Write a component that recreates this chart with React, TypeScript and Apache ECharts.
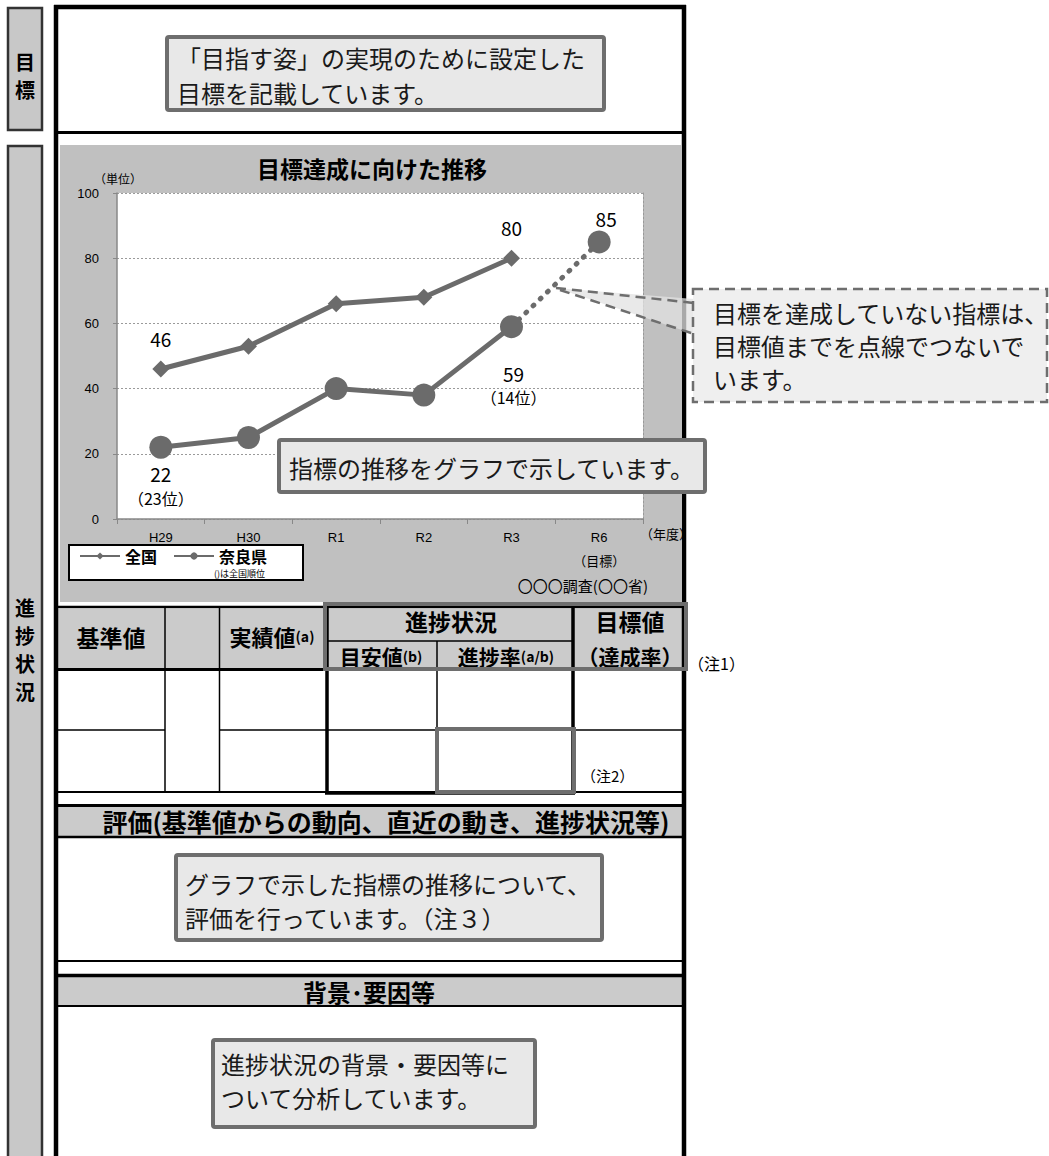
import React, { useEffect, useRef } from "react";
import * as echarts from "echarts";

const categories = ["H29", "H30", "R1", "R2", "R3", "R6"];
const nationalValues: (number | null)[] = [46, 53, 66, 68, 80, null];
const naraValues: (number | null)[] = [22, 25, 40, 38, 59, null];
const naraTargetValues: (number | null)[] = [null, null, null, null, 59, 85];
const naraRanks: (number | null)[] = [23, null, null, null, 14, null];
const nationalLabelIdx = [0, 4];
const naraLabelIdx = [0, 4];
const targetLabelIdx = [5];
const yMin = 0;
const yMax = 100;
const yInterval = 20;

const JP = '"Noto Sans CJK JP", "Noto Sans", sans-serif';
const LAT = '"Liberation Sans", Arial, sans-serif';
const GRAY = "#6b6b6b";

function rect(x: number, y: number, w: number, h: number, fill: string, stroke?: string, lw = 0, z = 1, extra: any = {}) {
  return {
    type: "rect",
    z,
    shape: { x, y, width: w, height: h, r: extra.r || 0 },
    style: { fill, stroke: stroke || "none", lineWidth: lw, lineDash: extra.dash || null },
    silent: true,
  };
}
function line(x1: number, y1: number, x2: number, y2: number, stroke: string, lw: number, z = 5, dash: any = null) {
  return {
    type: "line",
    z,
    shape: { x1, y1, x2, y2 },
    style: { stroke, lineWidth: lw, lineDash: dash },
    silent: true,
  };
}
function text(x: number, y: number, str: string, font: string, align = "left", z = 10, extra: any = {}) {
  return {
    type: "text",
    x,
    y,
    z,
    silent: true,
    style: {
      text: str,
      font,
      fill: "#000",
      align,
      verticalAlign: "middle",
      textAlign: align,
      textVerticalAlign: "middle",
      ...extra,
    },
  };
}
function callout(x: number, y: number, w: number, h: number, lines: string[], tx: number, ty: number[], z = 50) {
  const els: any[] = [rect(x, y, w, h, "#e8e8e8", "#6e6e6e", 4, z, { r: 2 })];
  lines.forEach((s, i) => els.push(text(tx, ty[i], s, `24px ${JP}`, "left", z + 1, { fill: "#1a1a1a" })));
  return els;
}

export default function App() {
  const ref = useRef<HTMLDivElement>(null);
  useEffect(() => {
    if (!ref.current) return;
    const chart = echarts.init(ref.current, null, { renderer: "svg" });

    const g: any[] = [];
    // left label boxes
    g.push(rect(8, 8, 34, 122, "#c8c8c8", "#333", 2.5, 1));
    g.push(text(25, 61, "目", `bold 20px ${JP}`, "center", 3, { lineHeight: 24 }));
    g.push(text(25, 89, "標", `bold 20px ${JP}`, "center", 3, { lineHeight: 24 }));
    g.push(rect(8, 146, 34, 1030, "#c8c8c8", "#333", 2.5, 1));
    ["進", "捗", "状", "況"].forEach((c, i) =>
      g.push(text(25, 607 + i * 28, c, `bold 20px ${JP}`, "center", 3, { lineHeight: 24 }))
    );

    // chart gray background
    g.push(rect(60, 145, 621, 457, "#c0c0c0", undefined, 0, -2));

    // header gray fills
    g.push(rect(58, 609, 624, 60, "#cbcbcb", undefined, 0, 1));
    g.push(rect(58, 807, 624, 29, "#cbcbcb", undefined, 0, 1));
    g.push(rect(58, 977, 624, 28, "#cbcbcb", undefined, 0, 1));

    // frame
    g.push(line(56, 5, 56, 1160, "#000", 4.5, 20));
    g.push(line(684, 5, 684, 1160, "#000", 4.5, 20));
    g.push(line(54, 7, 686, 7, "#000", 4.5, 20));
    g.push(line(56, 132.5, 684, 132.5, "#000", 3, 20));
    g.push(line(56, 607, 684, 607, "#000", 2.5, 20));
    g.push(line(56, 669.5, 684, 669.5, "#000", 3, 20));
    // table inner columns
    g.push(line(165, 607, 165, 792, "#000", 1.5, 20));
    g.push(line(219.5, 607, 219.5, 792, "#000", 1.5, 20));
    g.push(line(437, 641, 437, 792, "#000", 1.5, 20));
    g.push(line(327, 641, 573, 641, "#000", 1.5, 20));
    // row separator (col 2 merged)
    g.push(line(56, 730, 165, 730, "#000", 1.5, 20));
    g.push(line(219.5, 730, 684, 730, "#000", 1.5, 20));
    // thick box around progress columns
    g.push(line(327, 607, 327, 794, "#000", 3.5, 21));
    g.push(line(573, 607, 573, 794, "#000", 3.5, 21));
    g.push(line(56, 792, 684, 792, "#000", 2, 20));
    g.push(line(325, 793, 575, 793, "#000", 3.5, 21));
    // evaluation section lines
    g.push(line(56, 805.5, 684, 805.5, "#000", 3, 20));
    g.push(line(56, 837, 684, 837, "#000", 2.5, 20));
    g.push(line(56, 961, 684, 961, "#000", 2, 20));
    g.push(line(56, 975.5, 684, 975.5, "#000", 3.5, 20));
    g.push(line(56, 1006, 684, 1006, "#000", 2, 20));

    // gray highlight boxes
    g.push(rect(325, 604, 361, 65, "none", "#6e6e6e", 4, 30));
    g.push(rect(437, 729, 137, 63, "none", "#6e6e6e", 4, 30));

    // table header texts
    const hb = `bold 23px ${JP}`;
    g.push(text(111, 637, "基準値", hb, "center", 25));
    g.push(
      text(272, 636, "{a|実績値}{b|(a)}", hb, "center", 25, {
        rich: { a: { font: `bold 22px ${JP}`, fill: "#000" }, b: { font: `bold 14px ${JP}`, fill: "#000" } },
      })
    );
    g.push(text(451, 621, "進捗状況", `bold 23px ${JP}`, "center", 25));
    g.push(
      text(381, 656, "{a|目安値}{b|(b)}", hb, "center", 25, {
        rich: { a: { font: `bold 21px ${JP}`, fill: "#000" }, b: { font: `bold 14px ${JP}`, fill: "#000" } },
      })
    );
    g.push(
      text(506, 656, "{a|進捗率}{b|(a/b)}", hb, "center", 25, {
        rich: { a: { font: `bold 21px ${JP}`, fill: "#000" }, b: { font: `bold 14px ${JP}`, fill: "#000" } },
      })
    );
    g.push(text(630, 621, "目標値", hb, "center", 25));
    g.push(text(630, 656, "（達成率）", `bold 21px ${JP}`, "center", 25));
    g.push(text(688, 663, "（注1）", `16px ${JP}`, "left", 25));
    g.push(text(581, 775, "（注2）", `15px ${JP}`, "left", 25));

    g.push(text(386, 821, "評価(基準値からの動向、直近の動き、進捗状況等)", `bold 25px ${JP}`, "center", 25));
    g.push(text(369, 991, "背景･要因等", `bold 24px ${JP}`, "center", 25));

    // chart texts
    g.push(text(372, 168, "目標達成に向けた推移", `bold 23px ${JP}`, "center", 10));
    g.push(text(94, 178, "（単位）", `12px ${JP}`, "left", 10));
    g.push(text(640, 533, "（年度）", `13px ${JP}`, "left", 25));
    g.push(text(648, 585, "〇〇〇調査(〇〇省)", `15px ${JP}`, "right", 10));
    g.push(rect(69, 545, 234, 35, "#fff", "#000", 2, 0));
    g.push(text(214, 573, "()は全国順位", `9px ${JP}`, "left", 10));

    // callouts
    callout(167, 37, 437, 73, ["「目指す姿」の実現のために設定した", "目標を記載しています。"], 177, [57, 92]).forEach((e) => g.push(e));
    callout(279, 440, 426, 52, ["指標の推移をグラフで示しています。"], 289, [467]).forEach((e) => g.push(e));
    callout(176, 855, 426, 85, ["グラフで示した指標の推移について、", "評価を行っています。（注３）"], 185, [883, 917]).forEach((e) => g.push(e));
    callout(213, 1040, 322, 87, ["進捗状況の背景・要因等に", "ついて分析しています。"], 221, [1063, 1097]).forEach((e) => g.push(e));

    // dashed callout with pointer
    g.push({
      type: "polygon",
      z: 40,
      silent: true,
      shape: { points: [[556, 288], [694, 299], [694, 334]] },
      style: { fill: "rgba(225,225,225,0.75)", stroke: "none" },
    });
    g.push(line(556, 288, 694, 303, "#6e6e6e", 2.5, 41, [10, 6]));
    g.push(line(560, 290, 694, 334, "#6e6e6e", 2.5, 41, [10, 6]));
    g.push(rect(693, 289, 354, 113, "#efefef", "#6e6e6e", 2.5, 42, { dash: [10, 6] }));
    ["目標を達成していない指標は、", "目標値までを点線でつないで", "います。"].forEach((s, i) =>
      g.push(text(713, 312 + i * 33, s, `24px ${JP}`, "left", 43, { fill: "#1a1a1a" }))
    );

    const labelBase = { color: "#000", fontFamily: JP, fontSize: 19 };

    const option: any = {
      animation: false,
      grid: {
        left: 117,
        right: 1049 - 643,
        top: 193,
        bottom: 1156 - 519,
        show: true,
        backgroundColor: "#ffffff",
        borderWidth: 0,
      },
      legend: {
        data: ["全国", "奈良県"],
        left: 74,
        top: 545,
        itemWidth: 40,
        itemHeight: 9,
        itemGap: 16,
        z: 10,
        padding: [2, 5, 2, 5],
        textStyle: { fontFamily: JP, fontSize: 16, fontWeight: "bold", color: "#000", lineHeight: 18 },
      },
      xAxis: {
        type: "category",
        data: categories,
        boundaryGap: true,
        axisLine: { lineStyle: { color: "#888", width: 1.5 } },
        axisTick: { show: true, length: 5, lineStyle: { color: "#888" } },
        axisLabel: {
          interval: 0,
          color: "#000",
          fontFamily: LAT,
          fontSize: 13,
          margin: 8,
          lineHeight: 20,
          formatter: (v: string, i: number) => (i === categories.length - 1 ? `${v}\n{t|（目標）}` : v),
          rich: { t: { fontFamily: JP, fontSize: 13, color: "#000", lineHeight: 26 } },
        },
      },
      yAxis: [
        {
          type: "value",
          min: yMin,
          max: yMax,
          interval: yInterval,
          axisLine: { show: true, lineStyle: { color: "#888", width: 1.5 } },
          axisTick: { show: true, length: 4, lineStyle: { color: "#888" } },
          axisLabel: { color: "#000", fontFamily: LAT, fontSize: 13, margin: 18 },
          splitLine: { show: true, lineStyle: { color: "#9a9a9a", type: [2, 2], width: 1 } },
        },
        {
          type: "value",
          position: "right",
          min: yMin,
          max: yMax,
          interval: yInterval,
          axisLine: { show: true, lineStyle: { color: "#9a9a9a", type: [2, 2], width: 1 } },
          axisTick: { show: false },
          axisLabel: { show: false },
          splitLine: { show: false },
        },
      ],
      series: [
        {
          name: "全国",
          type: "line",
          data: nationalValues.map((v, i) => (v == null ? null : { value: v, label: { show: nationalLabelIdx.includes(i) } })),
          symbol: "diamond",
          symbolSize: 17,
          itemStyle: { color: GRAY },
          lineStyle: { color: GRAY, width: 5 },
          label: { ...labelBase, position: "top", distance: 13, formatter: "{c}" },
          z: 3,
        },
        {
          name: "奈良県",
          type: "line",
          data: naraValues.map((v, i) =>
            v == null
              ? null
              : {
                  value: v,
                  label: { show: naraLabelIdx.includes(i), distance: i === 0 ? 3 : 23, offset: i === 0 ? [0, 0] : [2, 0] },
                }
          ),
          symbol: "circle",
          symbolSize: 23,
          itemStyle: { color: GRAY },
          lineStyle: { color: GRAY, width: 5 },
          label: {
            ...labelBase,
            position: "bottom",
            lineHeight: 24,
            formatter: (p: any) => `${p.value}\n{r|（${naraRanks[p.dataIndex]}位）}`,
            rich: { r: { fontFamily: JP, fontSize: 16, color: "#000", lineHeight: 24 } },
          },
          z: 4,
        },
        {
          name: "奈良県目標",
          type: "line",
          yAxisIndex: 0,
          data: naraTargetValues.map((v, i) =>
            v == null
              ? null
              : i === 4
              ? { value: v, symbol: "none" }
              : { value: v, label: { show: targetLabelIdx.includes(i) } }
          ),
          symbol: "circle",
          symbolSize: 23,
          itemStyle: { color: GRAY },
          lineStyle: { color: GRAY, width: 5, type: [1, 9], cap: "round" },
          label: { ...labelBase, position: "top", distance: 2, offset: [7, 0], formatter: "{c}" },
          z: 4,
        },
      ],
      graphic: { elements: g },
    };

    chart.setOption(option);
    return () => chart.dispose();
  }, []);

  return (
    <div
      ref={ref}
      style={{ position: "fixed", left: 0, top: 0, width: 1049, height: 1156, background: "#fff" }}
    />
  );
}
